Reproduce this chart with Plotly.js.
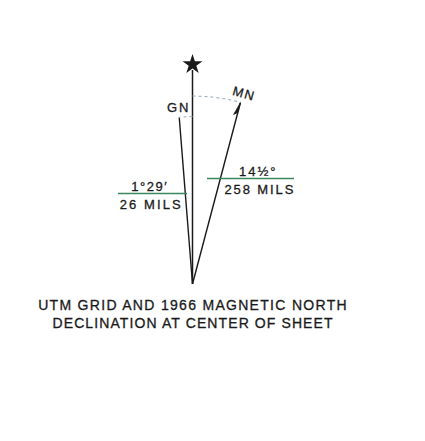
<!DOCTYPE html>
<html><head><meta charset="utf-8">
<script src="https://cdn.plot.ly/plotly-3.0.1.min.js"></script>
<style>html,body{margin:0;padding:0;background:#fff;} #chart{width:425px;height:441px;}</style>
</head><body><div id="chart"></div>
<script>
// ---- data ----
const northNames = ["GN", "MN"];
const drawnAngleDeg = [-4.55, 14.8];          // direction of each north line from true north, as drawn
const angleLabels = ["1°29′", "14½°"];
const milsLabels = ["26 MILS", "258 MILS"];
const captionLines = ["UTM GRID AND 1966 MAGNETIC NORTH", "DECLINATION AT CENTER OF SHEET"];

// ---- geometry (layout) ----
const APEX = {x: 192.5, y: 284};
const TN_LEN = 214;
const ARM_LEN = [167, 187.5];
const INK = '#1a1a1a', GREEN = '#3c8660', DOT = '#9fb2c2';
function pt(deg, r) { const a = deg * Math.PI / 180; return [APEX.x + r * Math.sin(a), APEX.y - r * Math.cos(a)]; }
function arc(d0, d1, r) { const xs = [], ys = []; for (let i = 0; i <= 24; i++) { const p = pt(d0 + (d1 - d0) * i / 24, r); xs.push(p[0]); ys.push(p[1]); } return {xs, ys}; }

const traces = [];
// true north line + star
traces.push({x: [APEX.x, APEX.x], y: [APEX.y, APEX.y - TN_LEN], mode: 'lines', line: {color: INK, width: 1.5}, hoverinfo: 'skip'});
traces.push({x: [APEX.x], y: [APEX.y - TN_LEN - 5.5], mode: 'markers', marker: {symbol: 'star', size: 15, color: INK}, hoverinfo: 'skip'});
// GN and MN lines + dotted arcs
northNames.forEach((n, i) => {
  const e = pt(drawnAngleDeg[i], ARM_LEN[i]);
  traces.push({x: [APEX.x, e[0]], y: [APEX.y, e[1]], mode: 'lines', line: {color: INK, width: 1.4}, hoverinfo: 'skip'});
  const a = arc(0, drawnAngleDeg[i], ARM_LEN[i] + 0.5);
  traces.push({x: a.xs, y: a.ys, mode: 'lines', line: {color: DOT, width: 1.2, dash: 'dot'}, hoverinfo: 'skip'});
});
// half arrowhead on MN
(function () {
  const d = drawnAngleDeg[1], a = d * Math.PI / 180;
  const T = pt(d, ARM_LEN[1]);
  const u = [Math.sin(a), -Math.cos(a)], nrm = [-Math.cos(a), -Math.sin(a)];
  const B = [T[0] - 13 * u[0] + 3.5 * nrm[0], T[1] - 13 * u[1] + 3.5 * nrm[1]];
  const S = [T[0] - 10 * u[0], T[1] - 10 * u[1]];
  traces.push({x: [T[0], B[0], S[0], T[0]], y: [T[1], B[1], S[1], T[1]], mode: 'lines', fill: 'toself', fillcolor: INK, line: {color: INK, width: 0.8}, hoverinfo: 'skip'});
})();
// green fraction bars
const barSpans = [[118, 187, 193.5], [207, 294, 178.5]];
barSpans.forEach(b => traces.push({x: [b[0], b[1]], y: [b[2], b[2]], mode: 'lines', line: {color: GREEN, width: 1.5}, hoverinfo: 'skip'}));

const F = 'Liberation Sans, Arial, sans-serif';
function ann(text, x, y, size, extra) { return Object.assign({text, x, y, xref: 'x', yref: 'y', showarrow: false, xanchor: 'center', yanchor: 'middle', font: {family: F, size, color: INK}}, extra || {}); }
const annotations = [
  ann(northNames[0], 178.5, 107.5, 13),
  ann(northNames[1], 244, 93.5, 13, {textangle: 16}),
  ann(angleLabels[0], 149.5, 186.5, 13),
  ann(milsLabels[0], 151, 204.5, 13),
  ann(angleLabels[1], 258.5, 171, 13),
  ann(milsLabels[1], 260, 189, 13),
  ann(captionLines[0], 193, 304.5, 14),
  ann(captionLines[1], 193, 323, 14)
];
const spacing = [2, 1.5, 1.5, 2.1, 2, 1.9, 1.3, 1.1];

const layout = {
  width: 425, height: 441, margin: {l: 0, r: 0, t: 0, b: 0},
  paper_bgcolor: '#fff', plot_bgcolor: '#fff', showlegend: false,
  xaxis: {range: [0, 425], visible: false, fixedrange: true},
  yaxis: {range: [441, 0], visible: false, fixedrange: true},
  annotations
};
Plotly.newPlot('chart', traces, layout, {displayModeBar: false, staticPlot: true}).then(gd => {
  gd.querySelectorAll('g.annotation').forEach(g => {
    const i = +g.getAttribute('data-index');
    const t = g.querySelector('text.annotation-text');
    if (t && spacing[i] != null) {
      t.style.letterSpacing = spacing[i] + 'px';
      t.style.stroke = INK;
      t.style.strokeWidth = '0.3px';
      t.style.paintOrder = 'stroke';
    }
  });
});
</script></body></html>
